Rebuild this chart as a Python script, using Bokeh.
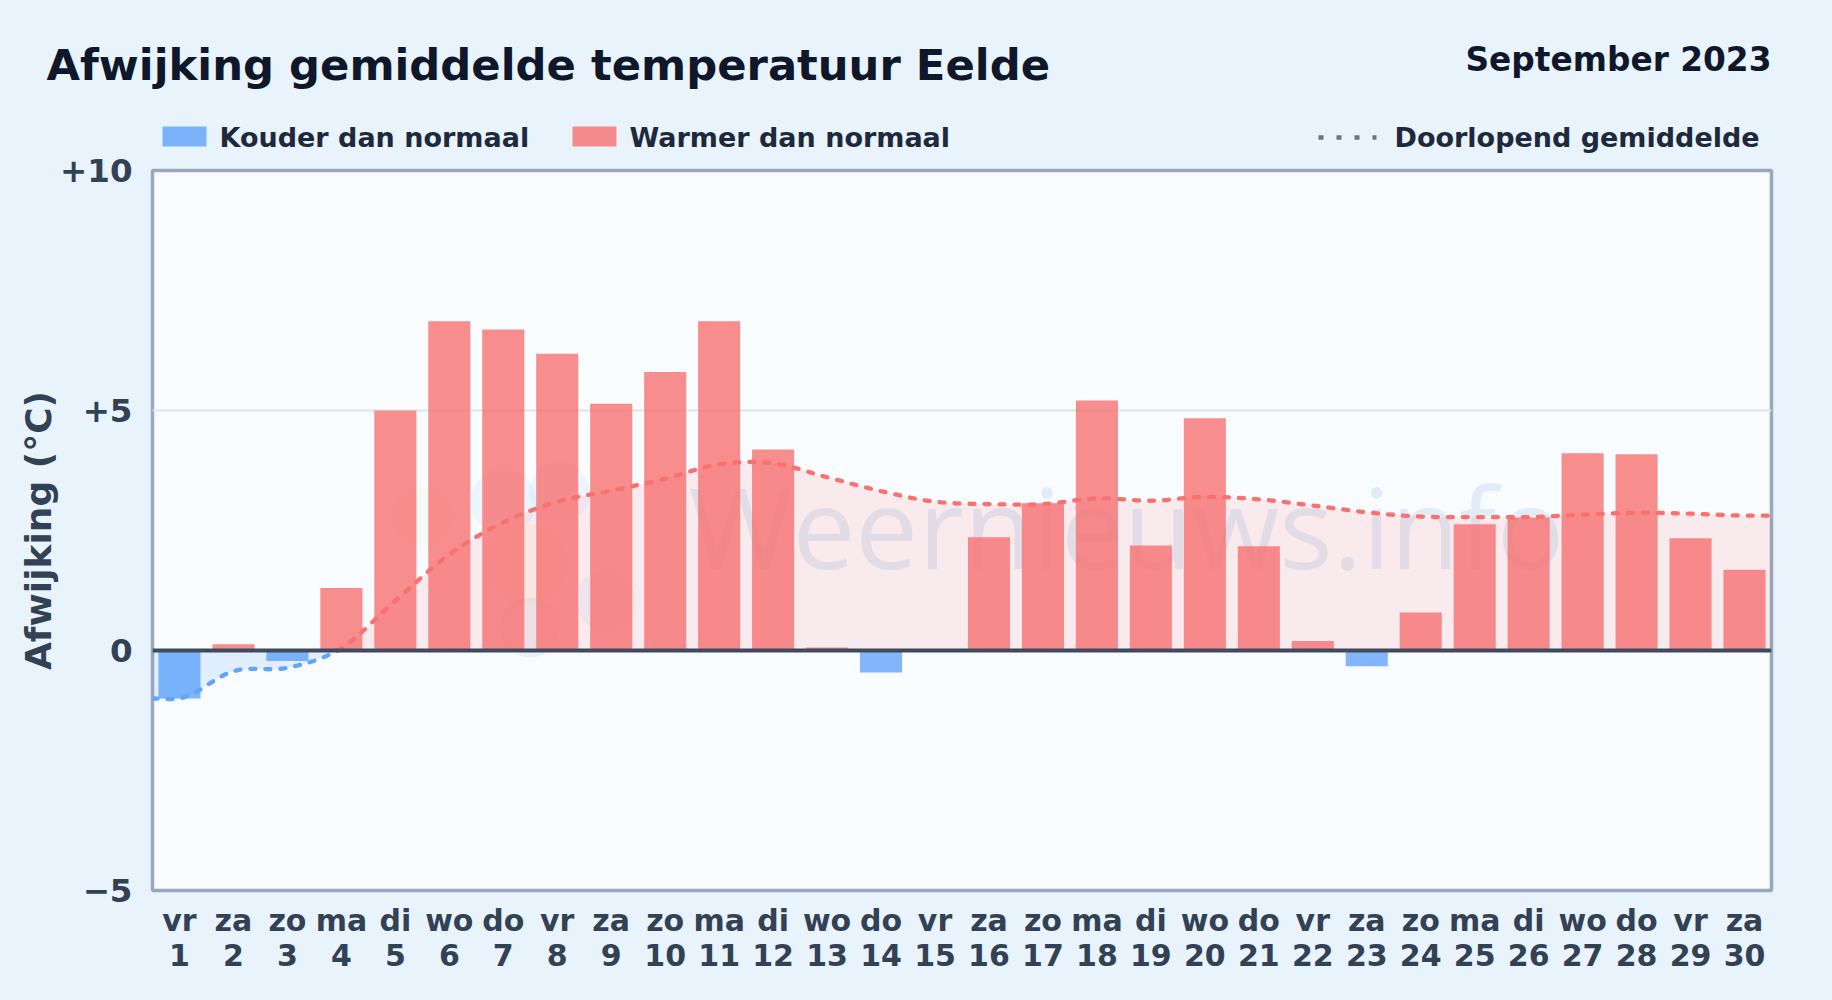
import numpy as np
from bokeh.plotting import figure
from bokeh.core.properties import value
from bokeh.layouts import column
from bokeh.models import (ColumnDataSource, FixedTicker, LinearAxis, Range1d, Span)
from bokeh.embed import file_html
from bokeh.resources import INLINE

weekdays = ["vr","za","zo","ma","di","wo","do","vr","za","zo","ma","di","wo","do","vr",
            "za","zo","ma","di","wo","do","vr","za","zo","ma","di","wo","do","vr","za"]
days = list(range(1, 31))
deviation = [-1.0, 0.13, -0.22, 1.3, 5.0, 6.86, 6.69, 6.18, 5.14, 5.8, 6.86, 4.19, 0.06, -0.46, 0.0,
             2.36, 3.07, 5.21, 2.19, 4.84, 2.17, 0.2, -0.33, 0.79, 2.63, 2.77, 4.11, 4.09, 2.34, 1.68]
running_mean = [-1.0, -0.43, -0.36, 0.05, 1.04, 2.0, 2.67, 3.1, 3.33, 3.58, 3.88, 3.9, 3.61, 3.32, 3.1,
                3.05, 3.05, 3.17, 3.12, 3.2, 3.15, 3.02, 2.88, 2.79, 2.78, 2.78, 2.83, 2.87, 2.85, 2.81]
y_ticks = [-5, 0, 5, 10]
y_tick_labels = {-5: "\u22125", 0: "0", 5: "+5", 10: "+10"}

logo_x = [7.0, 8.05, 5.5, 7.44, 8.9, 7.5]
logo_y = [3.1, 3.3, 2.8, 1.8, 1.04, 0.48]
logo_colors = ["#60a5fa", "#60a5fa", "#bef264", "#fdba74", "#60a5fa", "#64748b"]
logo_sizes = [66, 60, 60, 80, 60, 60]

BG = "#e9f3fc"
DARK = "#0f172a"
TEXT = "#1e293b"
AXIS = "#334155"
BOLD = "bold"
FONT = "DejaVu Sans"
COLD = "#4191fb"
WARM = "#f87171"
HEADER_H = 165
OVERLAP = 30


def smooth(xs, ys, n=16):
    """Hermite smoothing of the running mean, only for rendering the curve."""
    xs = np.asarray(xs, float)
    ys = np.asarray(ys, float)
    d = np.gradient(ys, xs)
    d[0] = d[-1] = 0
    out_x, out_y = [], []
    for i in range(len(xs) - 1):
        h = xs[i + 1] - xs[i]
        t = np.linspace(0, 1, n, endpoint=False)
        out_x.append(xs[i] + t * h)
        out_y.append((2*t**3 - 3*t**2 + 1) * ys[i] + (t**3 - 2*t**2 + t) * h * d[i]
                     + (-2*t**3 + 3*t**2) * ys[i + 1] + (t**3 - t**2) * h * d[i + 1])
    out_x.append(xs[-1:])
    out_y.append(ys[-1:])
    return np.concatenate(out_x), np.concatenate(out_y)


x_curve, y_curve = smooth([0.5] + days + [30.5], [running_mean[0]] + running_mean + [running_mean[-1]])
cross = int(np.argmax(y_curve > 0))
x0 = x_curve[cross-1] + (x_curve[cross]-x_curve[cross-1]) * (-y_curve[cross-1]) / (y_curve[cross]-y_curve[cross-1])
neg_x = np.append(x_curve[:cross], x0)
neg_y = np.append(y_curve[:cross], 0.0)
pos_x = np.insert(x_curve[cross:], 0, x0)
pos_y = np.insert(y_curve[cross:], 0, 0.0)

# ---- header strip: title, month and key
h = figure(width=1832, height=HEADER_H, output_backend="svg", toolbar_location=None,
           x_range=Range1d(0, 1832), y_range=Range1d(HEADER_H, 0),
           background_fill_color=BG, border_fill_color=BG,
           min_border=0, x_axis_location=None, y_axis_location=None)
h.outline_line_color = None
h.grid.visible = False
h.frame_align = False


def head_text(x, y, text, size, color, align="left"):
    h.text([x], [y], text=[text], text_align=align, text_baseline="middle",
           text_font=value(FONT), text_font_style=BOLD, text_font_size=value(size), text_color=color)


head_text(46, 64, "Afwijking gemiddelde temperatuur Eelde", "43.3px", DARK)
head_text(1771, 59, "September 2023", "32.8px", DARK, "right")
h.quad(left=[162], right=[206], top=[126], bottom=[146], fill_color=COLD, fill_alpha=0.65, line_color=None)
head_text(219, 137, "Kouder dan normaal", "27px", TEXT)
h.quad(left=[572], right=[616], top=[126], bottom=[146], fill_color=WARM, fill_alpha=0.8, line_color=None)
head_text(629, 137, "Warmer dan normaal", "27px", TEXT)
h.line([1318, 1376], [137, 137], line_color="#6b7280", line_width=4.5, line_dash="5 13")
head_text(1394, 137, "Doorlopend gemiddelde", "27px", TEXT)

# ---- chart: overlaps the header strip, with a see-through surround
p = figure(width=1832, height=1000 - HEADER_H + OVERLAP, output_backend="svg", toolbar_location=None,
           x_range=Range1d(0.5, 30.5), y_range=Range1d(-5, 10),
           background_fill_color="#f8fcff", border_fill_alpha=0,
           min_border_left=152, min_border_right=61, min_border_top=170 - HEADER_H + OVERLAP, min_border_bottom=110,
           x_axis_location=None)
p.frame_align = False
p.margin = (-OVERLAP, 0, 0, 0)

p.outline_line_color = "#9aa8bc"
p.outline_line_width = 3.5
p.xgrid.visible = False
p.ygrid.ticker = FixedTicker(ticks=[5])
p.ygrid.grid_line_color = "#dde4ec"
p.ygrid.grid_line_width = 2

weekday_axis = LinearAxis(ticker=FixedTicker(ticks=days), major_label_standoff=6,
                          major_label_overrides={d: w for d, w in zip(days, weekdays)})
day_axis = LinearAxis(ticker=FixedTicker(ticks=days), major_label_standoff=-3,
                      major_label_overrides={d: str(d) for d in days})
p.add_layout(weekday_axis, "below")
p.add_layout(day_axis, "below")
p.yaxis.ticker = FixedTicker(ticks=y_ticks)
p.yaxis.major_label_overrides = y_tick_labels
for ax in (weekday_axis, day_axis, p.yaxis[0]):
    ax.axis_line_color = None
    ax.major_tick_line_color = None
    ax.minor_tick_line_color = None
    ax.major_label_text_font = FONT
    ax.major_label_text_font_style = BOLD
    ax.major_label_text_font_size = "30px"
    ax.major_label_text_color = AXIS
p.yaxis.major_label_text_font_size = "32.5px"
p.yaxis.major_label_standoff = 14
p.yaxis.axis_label = "Afwijking (\u00b0C)"
p.yaxis.axis_label_text_font = FONT
p.yaxis.axis_label_text_font_style = BOLD
p.yaxis.axis_label_text_font_size = "36px"
p.yaxis.axis_label_text_color = AXIS
p.yaxis.axis_label_standoff = -2

p.scatter(logo_x, logo_y, size=logo_sizes, fill_color=logo_colors, fill_alpha=0.08, line_color=None)
p.varea(neg_x, y1=0, y2=neg_y, fill_color=COLD, fill_alpha=0.13)
p.varea(pos_x, y1=0, y2=pos_y, fill_color=WARM, fill_alpha=0.13)
p.text([18.55], [2.6], text=["Weernieuws.info"], text_align="center", text_baseline="alphabetic",
       text_font=value("Open Sans"), text_font_size=value("112px"), text_color="#4a7fb8", text_alpha=0.12)

cold_idx = [i for i, v in enumerate(deviation) if v < 0]
warm_idx = [i for i, v in enumerate(deviation) if v >= 0]
cold_src = ColumnDataSource(dict(x=[days[i] for i in cold_idx], top=[deviation[i] for i in cold_idx]))
warm_src = ColumnDataSource(dict(x=[days[i] for i in warm_idx], top=[deviation[i] for i in warm_idx]))
p.vbar(x="x", top="top", bottom=0, width=0.78, source=cold_src, fill_color=COLD, fill_alpha=0.65, line_color=None)
p.vbar(x="x", top="top", bottom=0, width=0.78, source=warm_src, fill_color=WARM, fill_alpha=0.8, line_color=None)

p.line(neg_x, neg_y, line_color="#60a5fa", line_width=4.3, line_dash="5 10", line_cap="round")
p.line(pos_x, pos_y, line_color=WARM, line_width=4.3, line_dash="5 10", line_cap="round")

p.add_layout(Span(location=0, dimension="width", line_color="#3f4a5c", line_width=4))

page = column(h, p, spacing=0)
html = file_html(page, INLINE)
html = html.replace("<head>", f"<head><style>html,body{{background:{BG};margin:0;overflow:hidden;}}</style>", 1)
open("out.html", "w").write(html)
